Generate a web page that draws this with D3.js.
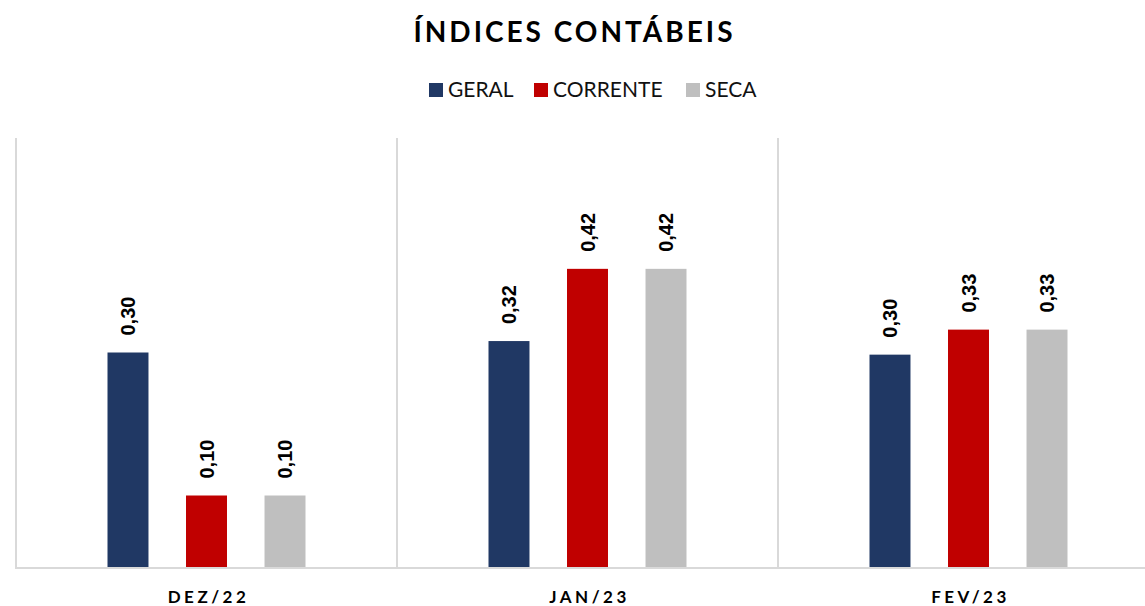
<!DOCTYPE html>
<html>
<head>
<meta charset="utf-8">
<script src="https://cdn.jsdelivr.net/npm/d3@7"></script>
<style>
  body { margin: 0; background: #fff; overflow: hidden; }
  svg { display: block; }
</style>
</head>
<body>
<div id="chart"></div>
<script>
// data
const months = ['DEZ/22', 'JAN/23', 'FEV/23'];
const seriesNames = ['GERAL', 'CORRENTE', 'SECA'];
const geral = [0.300, 0.316, 0.297];
const corrente = [0.100, 0.417, 0.332];
const seca = [0.100, 0.417, 0.332];
const colors = ['#203864', '#c00000', '#bfbfbf'];

document.addEventListener('DOMContentLoaded', function(){
    drawChart();
});

function drawChart() {
    const W = 1145, H = 606;
    const svg = d3.select('#chart').append('svg').attr('width', W).attr('height', H);

    // plot runs past the right edge of the picture
    const left = 16, right = 1159, top = 138, bottom = 567;
    const groupW = 198;

    const x = d3.scaleBand().domain(months).range([left, right]);
    const inner = d3.scaleBand().domain(seriesNames).range([0, groupW]).paddingInner(0.478);
    const y = d3.scaleLinear().domain([0, 0.6]).range([bottom, top]);

    const values = [geral, corrente, seca];
    const rows = [];
    months.forEach(function(m, i) {
        seriesNames.forEach(function(s, j) {
            rows.push({month: m, series: s, value: values[j][i], color: colors[j]});
        });
    });

    // title
    svg.append('text')
        .attr('x', W / 2 + 2).attr('y', 42)
        .attr('text-anchor', 'middle')
        .style('font-family', 'Lato, "Open Sans", sans-serif')
        .style('font-weight', 'bold')
        .style('font-size', '28px')
        .style('letter-spacing', '3px')
        .text('ÍNDICES CONTÁBEIS');

    // legend
    const legendX = [429, 534, 686];
    const legend = svg.append('g');
    seriesNames.forEach(function(s, j) {
        legend.append('rect')
            .attr('x', legendX[j]).attr('y', 83).attr('width', 14).attr('height', 14)
            .attr('fill', colors[j]);
        legend.append('text')
            .attr('x', legendX[j] + 19).attr('y', 97)
            .style('font-family', 'Lato, "Open Sans", sans-serif')
            .style('font-size', '21px')
            .attr('fill', '#111')
            .text(s);
    });

    // category separators
    const seps = months.map(function(m) { return x(m); }).concat([right]);
    svg.selectAll('line.sep').data(seps).enter().append('line')
        .attr('class', 'sep')
        .attr('x1', function(d) { return d; }).attr('x2', function(d) { return d; })
        .attr('y1', top).attr('y2', bottom + 1)
        .attr('stroke', '#d9d9d9').attr('stroke-width', 2);

    // bars
    const offset = (x.bandwidth() - groupW) / 2;
    svg.selectAll('rect.bar').data(rows).enter().append('rect')
        .attr('class', 'bar')
        .attr('x', function(d) { return x(d.month) + offset + inner(d.series); })
        .attr('y', function(d) { return y(d.value); })
        .attr('width', inner.bandwidth())
        .attr('height', function(d) { return bottom - y(d.value); })
        .attr('fill', function(d) { return d.color; });

    // baseline
    svg.append('line')
        .attr('x1', left - 1).attr('x2', right + 1)
        .attr('y1', bottom + 1).attr('y2', bottom + 1)
        .attr('stroke', '#d9d9d9').attr('stroke-width', 2);

    // value labels
    const fmt = function(v) { return d3.format('.2f')(v).replace('.', ','); };
    svg.selectAll('text.val').data(rows).enter().append('text')
        .attr('class', 'val')
        .attr('transform', function(d) {
            const cx = x(d.month) + offset + inner(d.series) + inner.bandwidth() / 2 + 7;
            return 'translate(' + cx + ',' + (y(d.value) - 17) + ') rotate(-90)';
        })
        .style('font-family', '"Liberation Sans", Arial, sans-serif')
        .style('font-weight', 'bold')
        .style('font-size', '20px')
        .text(function(d) { return fmt(d.value); });

    // x labels
    svg.selectAll('text.xl').data(months).enter().append('text')
        .attr('class', 'xl')
        .attr('x', function(d) { return x(d) + x.bandwidth() / 2 + 2; })
        .attr('y', 603)
        .attr('text-anchor', 'middle')
        .style('font-family', 'Lato, "Open Sans", sans-serif')
        .style('font-weight', 'bold')
        .style('font-size', '17px')
        .style('letter-spacing', '3.5px')
        .text(function(d) { return d; });
}
</script>
</body>
</html>
